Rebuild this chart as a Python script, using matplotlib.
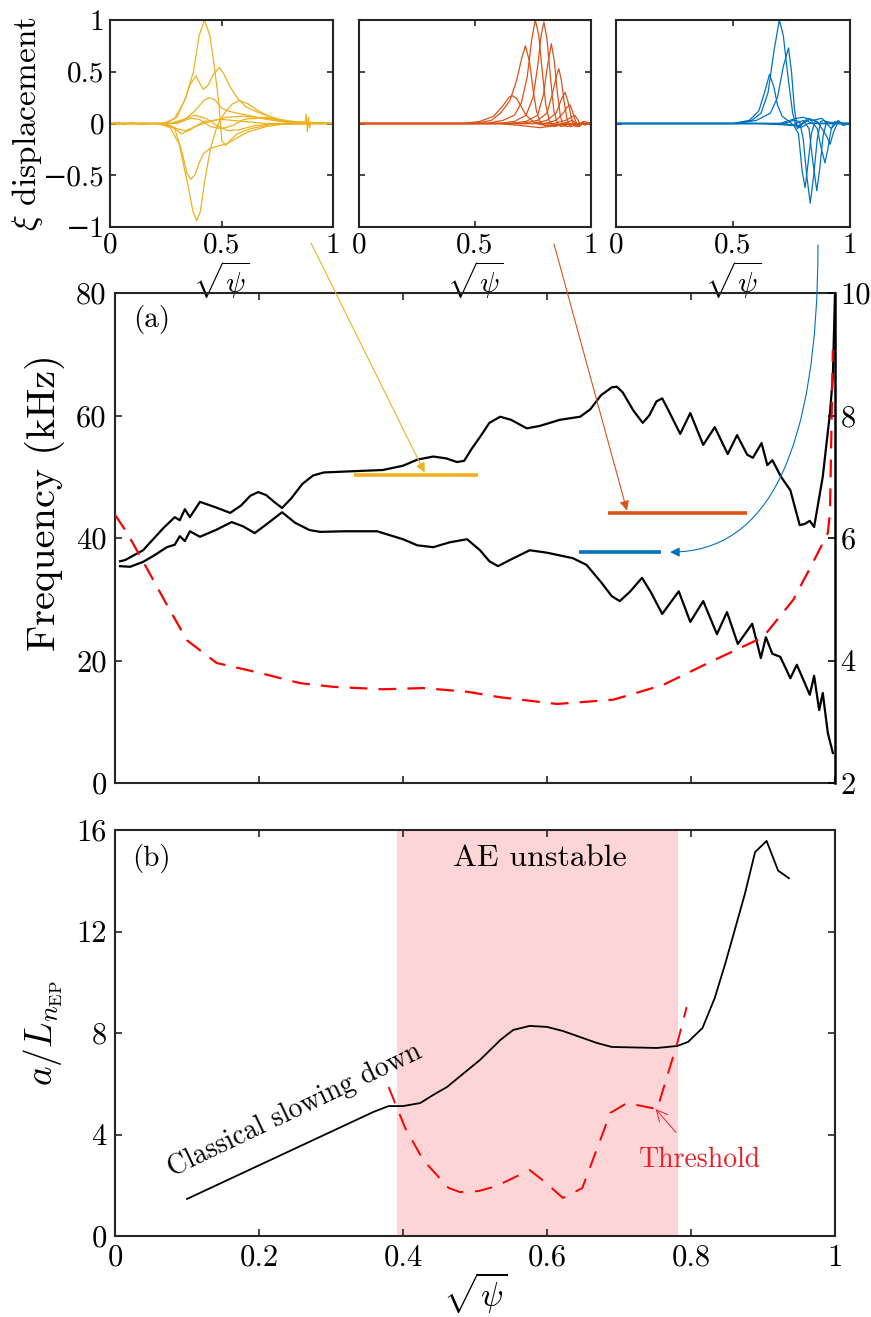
import numpy as np
import matplotlib
matplotlib.use("Agg")
import matplotlib.pyplot as plt
from matplotlib.ticker import FuncFormatter

plt.rcParams['font.family'] = ['cmr10', 'DejaVu Serif']
plt.rcParams['mathtext.fontset'] = 'cm'
plt.rcParams['axes.unicode_minus'] = True

# ---------------- data ----------------
# panel (a): frequency continuum (kHz) vs sqrt(psi)
up_x = [0.007,0.014,0.039,0.067,0.083,0.090,0.097,0.104,0.118,0.14,0.160,0.175,0.188,0.199,0.21,0.222,0.232,0.245,0.26,0.275,0.29,0.33,0.372,0.40,0.42,0.442,0.46,0.475,0.485,0.495,0.507,0.52,0.535,0.55,0.572,0.59,0.618,0.646,0.66,0.675,0.69,0.697,0.705,0.72,0.733,0.742,0.752,0.76,0.768,0.785,0.799,0.817,0.833,0.851,0.864,0.878,0.886,0.898,0.906,0.913,0.925,0.938,0.951,0.958,0.965,0.971,0.983,0.993,0.997,1.0]
up_f = [36.2,36.4,38.0,41.6,43.4,42.9,44.7,43.4,45.9,45.0,44.1,45.3,46.9,47.5,47.0,45.8,44.9,46.5,48.8,50.2,50.7,50.9,51.1,51.8,52.8,53.3,53.0,52.4,52.6,54.5,56.5,58.8,59.8,59.3,57.9,58.3,59.3,59.8,61.0,63.3,64.6,64.7,63.8,60.8,58.8,60.0,62.3,62.8,61.0,57.0,60.4,55.2,58.1,53.7,56.8,53.6,53.1,55.5,51.9,52.7,50.0,47.8,42.1,42.3,42.8,41.8,50.0,60.4,66.3,80.0]
lo_x = [0.007,0.021,0.039,0.055,0.072,0.083,0.090,0.097,0.104,0.118,0.14,0.162,0.178,0.194,0.21,0.232,0.25,0.27,0.285,0.32,0.364,0.40,0.42,0.442,0.465,0.489,0.507,0.52,0.532,0.55,0.576,0.60,0.636,0.655,0.675,0.69,0.701,0.715,0.732,0.745,0.76,0.783,0.799,0.817,0.836,0.85,0.865,0.885,0.897,0.904,0.913,0.924,0.938,0.947,0.965,0.971,0.978,0.983,0.99,0.997]
lo_f = [35.4,35.3,36.1,37.2,38.5,38.9,40.3,39.5,41.1,40.2,41.3,42.6,41.9,40.8,42.2,44.2,42.5,41.3,41.0,41.1,41.1,39.8,38.8,38.5,39.3,39.8,38.0,36.2,35.4,36.5,38.0,37.6,36.7,35.6,32.8,30.5,29.7,31.2,33.5,31.0,27.6,31.3,26.3,29.7,24.3,27.9,22.7,26.0,20.4,23.8,21.1,20.6,17.1,19.3,14.4,17.5,11.9,14.7,8.2,4.9]
q_x = [0.0,0.017,0.044,0.072,0.10,0.141,0.20,0.257,0.303,0.372,0.428,0.489,0.535,0.614,0.692,0.761,0.831,0.90,0.942,0.969,0.99,0.993,0.997]
q_v = [6.38,6.08,5.51,4.91,4.33,3.96,3.80,3.63,3.57,3.53,3.55,3.49,3.40,3.29,3.36,3.60,4.00,4.38,4.99,5.59,6.08,6.41,9.07]

# mode frequencies marked in (a): (x start, x end, frequency kHz)
mode_yellow = (0.332, 0.504, 50.3)
mode_orange = (0.685, 0.878, 44.1)
mode_blue = (0.644, 0.758, 37.7)

# panel (b)
b_x = [0.1,0.359,0.38,0.4,0.424,0.442,0.461,0.507,0.535,0.553,0.576,0.6,0.622,0.669,0.69,0.753,0.781,0.796,0.816,0.833,0.847,0.858,0.875,0.889,0.905,0.921,0.936]
b_v = [1.46,4.89,5.12,5.12,5.24,5.56,5.87,6.94,7.72,8.12,8.28,8.24,8.08,7.61,7.45,7.41,7.49,7.65,8.2,9.38,10.68,11.78,13.5,15.13,15.57,14.4,14.1]
th_x = [0.38,0.403,0.428,0.463,0.479,0.505,0.53,0.576,0.597,0.622,0.649,0.688,0.711,0.753,0.781,0.794]
th_v = [5.87,4.26,3.0,1.9,1.73,1.77,1.97,2.6,2.13,1.5,1.89,4.85,5.24,5.0,7.61,9.02]
unstable = (0.392, 0.782)

# insets: mode structures, list of (x, xi) point lists
yellow_modes = [
    [(0,0),(0.25,0),(0.30,0.06),(0.34,0.25),(0.374,0.5),(0.40,0.85),(0.423,1.0),(0.448,0.85),(0.471,0.5),(0.488,0.2),(0.496,-0.02),(0.502,-0.17),(0.52,-0.21),(0.545,-0.15),(0.57,-0.1),(0.63,-0.05),(0.72,-0.01),(1,0)],
    [(0,0),(0.22,0),(0.27,-0.04),(0.31,-0.2),(0.35,-0.6),(0.372,-0.85),(0.389,-0.94),(0.405,-0.85),(0.425,-0.55),(0.45,-0.25),(0.475,-0.06),(0.49,0.02),(0.52,0.12),(0.55,0.19),(0.58,0.22),(0.62,0.19),(0.66,0.13),(0.72,0.06),(0.8,0.01),(1,0)],
    [(0,0),(0.24,0),(0.29,0.05),(0.33,0.2),(0.36,0.38),(0.386,0.46),(0.40,0.40),(0.418,0.33),(0.44,0.37),(0.465,0.48),(0.49,0.54),(0.51,0.48),(0.54,0.35),(0.57,0.25),(0.61,0.16),(0.65,0.12),(0.70,0.08),(0.76,0.04),(0.85,0.01),(1,0)],
    [(0,0),(0.24,0),(0.29,-0.05),(0.32,-0.25),(0.345,-0.48),(0.362,-0.54),(0.38,-0.5),(0.40,-0.38),(0.42,-0.29),(0.45,-0.24),(0.48,-0.22),(0.52,-0.2),(0.56,-0.15),(0.62,-0.08),(0.7,-0.03),(0.8,0),(1,0)],
    [(0,0),(0.28,0),(0.33,0.03),(0.38,0.12),(0.42,0.22),(0.445,0.25),(0.47,0.23),(0.50,0.15),(0.53,0.12),(0.57,0.1),(0.62,0.08),(0.7,0.04),(0.8,0.01),(1,0)],
    [(0,0),(0.25,0),(0.30,-0.05),(0.34,-0.07),(0.38,-0.03),(0.42,0.0),(0.47,0.03),(0.52,0.06),(0.6,0.07),(0.7,0.05),(0.8,0.02),(1,0)],
    [(0,0),(0.27,0),(0.33,0.04),(0.38,0.08),(0.43,0.05),(0.48,-0.02),(0.53,-0.07),(0.58,-0.06),(0.65,-0.02),(0.75,0.0),(0.875,0),(0.88,0.09),(0.885,-0.08),(0.89,0.06),(0.895,-0.04),(0.9,0),(1,0)],
    [(0,0),(0.3,0),(0.36,0.05),(0.4,0.04),(0.45,-0.03),(0.5,-0.05),(0.55,-0.02),(0.6,0.04),(0.7,0.06),(0.78,0.02),(1,0)],
    [(0,0),(0.04,0.01),(0.06,-0.01),(0.1,0.01),(0.14,-0.01),(0.2,0),(0.28,-0.03),(0.32,-0.1),(0.36,-0.06),(0.42,0.02),(0.5,0.04),(0.6,0.02),(0.7,0.0),(1,0)],
]
orange_modes = [
    [(0,0),(0.45,0.0),(0.52,0.02),(0.58,0.07),(0.62,0.17),(0.645,0.25),(0.66,0.27),(0.68,0.24),(0.70,0.16),(0.72,0.08),(0.75,0.02),(0.78,-0.01),(0.82,-0.02),(0.88,0),(1,0)],
    [(0,0),(0.5,0),(0.57,0.03),(0.61,0.1),(0.65,0.22),(0.68,0.42),(0.70,0.62),(0.717,0.75),(0.735,0.6),(0.75,0.33),(0.765,0.12),(0.78,0.02),(0.80,-0.02),(0.85,-0.01),(1,0)],
    [(0,0),(0.55,0),(0.62,0.03),(0.67,0.08),(0.70,0.2),(0.725,0.45),(0.745,0.82),(0.76,1.0),(0.775,0.85),(0.79,0.5),(0.805,0.18),(0.82,0.03),(0.84,-0.03),(0.88,-0.01),(1,0)],
    [(0,0),(0.6,0),(0.67,0.02),(0.72,0.08),(0.75,0.25),(0.77,0.55),(0.785,0.85),(0.797,0.98),(0.81,0.82),(0.825,0.45),(0.84,0.12),(0.855,0.0),(0.87,-0.03),(0.9,-0.01),(1,0)],
    [(0,0),(0.65,0),(0.72,0.02),(0.77,0.08),(0.795,0.28),(0.812,0.55),(0.829,0.77),(0.842,0.6),(0.855,0.3),(0.868,0.07),(0.88,-0.02),(0.9,-0.03),(0.93,0),(1,0)],
    [(0,0),(0.7,0),(0.77,0.03),(0.81,0.1),(0.835,0.3),(0.85,0.45),(0.861,0.53),(0.872,0.42),(0.885,0.2),(0.897,0.04),(0.91,-0.03),(0.93,-0.02),(0.95,0),(1,0)],
    [(0,0),(0.75,0),(0.81,0.03),(0.85,0.1),(0.87,0.22),(0.888,0.30),(0.90,0.22),(0.913,0.08),(0.925,-0.02),(0.94,-0.03),(0.96,0),(1,0)],
    [(0,0),(0.8,0),(0.85,0.03),(0.88,0.1),(0.898,0.16),(0.909,0.18),(0.92,0.12),(0.932,0.03),(0.945,-0.03),(0.96,0.01),(0.975,-0.01),(1,0)],
    [(0,0),(0.84,0),(0.89,0.03),(0.915,0.06),(0.93,0.08),(0.945,0.03),(0.955,-0.02),(0.965,0.02),(0.975,-0.02),(0.985,0.01),(1,0)],
    [(0,0),(0.6,0),(0.7,-0.02),(0.78,-0.04),(0.85,-0.02),(0.92,0.03),(0.95,-0.03),(0.97,0.02),(1,0)],
]
blue_modes = [
    [(0,0),(0.5,0),(0.58,0.03),(0.62,0.1),(0.65,0.3),(0.675,0.7),(0.698,1.0),(0.715,0.85),(0.735,0.45),(0.755,0.1),(0.77,-0.03),(0.79,-0.04),(0.82,0.0),(1,0)],
    [(0,0),(0.52,0),(0.6,0.03),(0.66,0.1),(0.69,0.25),(0.715,0.55),(0.737,0.73),(0.75,0.5),(0.762,0.15),(0.775,-0.05),(0.79,-0.02),(0.81,0.03),(0.84,0),(1,0)],
    [(0,0),(0.5,0),(0.57,0.03),(0.61,0.12),(0.635,0.3),(0.656,0.475),(0.675,0.35),(0.69,0.18),(0.71,0.07),(0.74,0.02),(0.76,-0.02),(0.78,-0.1),(0.795,-0.45),(0.808,-0.62),(0.82,-0.4),(0.835,-0.1),(0.85,0.02),(0.87,0),(1,0)],
    [(0,0),(0.6,0),(0.7,-0.01),(0.76,0.03),(0.785,0.02),(0.80,-0.15),(0.815,-0.5),(0.83,-0.77),(0.845,-0.5),(0.86,-0.15),(0.875,0.02),(0.89,0.03),(0.91,0),(1,0)],
    [(0,0),(0.65,0),(0.75,-0.02),(0.80,0.03),(0.825,-0.05),(0.84,-0.35),(0.858,-0.65),(0.87,-0.45),(0.885,-0.12),(0.9,0.02),(0.92,0.01),(1,0)],
    [(0,0),(0.7,0),(0.78,-0.02),(0.83,0.04),(0.86,-0.05),(0.878,-0.25),(0.893,-0.38),(0.905,-0.25),(0.92,-0.05),(0.935,0.02),(0.95,0),(1,0)],
    [(0,0),(0.7,0),(0.77,0.05),(0.80,0.06),(0.84,0.03),(0.88,0.05),(0.92,-0.05),(0.95,0.03),(0.97,-0.02),(1,0)],
    [(0,0),(0.72,0),(0.78,-0.03),(0.82,0.05),(0.86,0.02),(0.9,-0.12),(0.915,-0.2),(0.93,-0.08),(0.95,0.02),(0.98,-0.01),(1,0)],
]

C_Y, C_O, C_B = '#EDB120', '#D95319', '#0072BD'
SPINE = '#262626'
W, H = 871, 1317

def fmt(v, pos=None):
    s = '%g' % v
    return s.replace('-', '\u2212')

def style_axes(ax, fs=22):
    for s in ax.spines.values():
        s.set_color(SPINE)
        s.set_linewidth(1.5)
    ax.tick_params(direction='in', top=True, right=True, length=5, width=1.2,
                   color=SPINE, labelsize=fs, pad=6)

fig = plt.figure(figsize=(W/100, H/100), dpi=100)

def rect(l, t, r, b):
    return [l/W, 1-b/H, (r-l)/W, (b-t)/H]

# ---------------- insets ----------------
inset_specs = [((110, 20, 333, 227), yellow_modes, C_Y),
               ((359, 20, 591, 227), orange_modes, C_O),
               ((616, 20, 850, 227), blue_modes, C_B)]
insets = []
for i, (r, modes, col) in enumerate(inset_specs):
    ax = fig.add_axes(rect(*r))
    for m in modes:
        xs = [p[0] for p in m]
        ys = [p[1] for p in m]
        ax.plot(xs, ys, color=col, lw=0.9)
    ax.set_xlim(0, 1)
    ax.set_ylim(-1, 1)
    ax.set_xticks([0, 0.5, 1])
    ax.set_yticks([-1, -0.5, 0, 0.5, 1])
    ax.xaxis.set_major_formatter(FuncFormatter(fmt))
    ax.yaxis.set_major_formatter(FuncFormatter(fmt))
    style_axes(ax, fs=21)
    ax.tick_params(length=4, pad=4)
    if i > 0:
        ax.tick_params(labelleft=False)
    else:
        ax.set_ylabel(r'$\xi$ displacement', fontsize=24)
        ax.yaxis.set_label_coords(-0.29, 0.5)
    ax.set_xlabel(r'$\sqrt{\psi}$', fontsize=21)
    ax.xaxis.set_label_coords(0.5, -0.155)
    insets.append(ax)

# ---------------- panel (a) ----------------
axa = fig.add_axes(rect(115, 293, 835, 783))
axa.set_facecolor('none')
axa.plot(up_x, up_f, color='k', lw=1.6, solid_joinstyle='round')
axa.plot(lo_x, lo_f, color='k', lw=1.6, solid_joinstyle='round')
for (x0, x1, f), col in [(mode_yellow, C_Y), (mode_orange, C_O), (mode_blue, C_B)]:
    axa.plot([x0, x1], [f, f], color=col, lw=2.6, solid_capstyle='butt')
axa.set_xlim(0, 1)
axa.set_ylim(0, 80)
axa.set_xticks([0, 0.2, 0.4, 0.6, 0.8, 1.0])
axa.set_yticks([0, 20, 40, 60, 80])
style_axes(axa, fs=22)
axa.tick_params(labelbottom=False, right=False)
axa.spines['right'].set_visible(False)
axa.set_ylabel('Frequency (kHz)', fontsize=29)
axa.yaxis.set_label_coords(-0.069, 0.573)
axa.text(0.025, 0.945, '(a)', transform=axa.transAxes, fontsize=21, va='center', ha='left')

axq = axa.twinx()
axq.plot(q_x, q_v, color='r', lw=1.6, dashes=(8, 5))
axq.set_ylim(2, 10)
axq.set_yticks([2, 4, 6, 8, 10])
axq.yaxis.set_major_formatter(FuncFormatter(fmt))
for s in axq.spines.values():
    s.set_visible(False)
axq.spines['right'].set_visible(True)
axq.spines['right'].set_color('k')
axq.spines['right'].set_linewidth(1.8)
axq.tick_params(axis='y', direction='in', length=5, width=1.2, color='k', labelsize=22, pad=4)

# arrows from insets to the mode frequencies
arr = dict(arrowstyle='-|>', lw=0.8, shrinkA=0, shrinkB=0, mutation_scale=14)
axa.annotate('', xy=(0.43, mode_yellow[2] + 0.4), xycoords='data',
             xytext=(311/W, 1-243/H), textcoords='figure fraction',
             arrowprops=dict(color=C_Y, **arr), annotation_clip=False)
axa.annotate('', xy=(0.711, mode_orange[2] + 0.4), xycoords='data',
             xytext=(554/W, 1-244/H), textcoords='figure fraction',
             arrowprops=dict(color=C_O, **arr), annotation_clip=False)
axa.annotate('', xy=(0.771, mode_blue[2]), xycoords='data',
             xytext=(818/W, 1-245/H), textcoords='figure fraction',
             arrowprops=dict(color=C_B, connectionstyle='angle3,angleA=90,angleB=0', **arr),
             annotation_clip=False)

# ---------------- panel (b) ----------------
axb = fig.add_axes(rect(115, 830, 835, 1236))
axb.axvspan(unstable[0], unstable[1], color='#fdd5d6', lw=0, zorder=0)
axb.plot(b_x, b_v, color='k', lw=1.3)
axb.plot(th_x, th_v, color='r', lw=1.4, dashes=(9, 6))
axb.set_xlim(0, 1)
axb.set_ylim(0, 16)
axb.set_xticks([0, 0.2, 0.4, 0.6, 0.8, 1.0])
axb.set_yticks([0, 4, 8, 12, 16])
axb.xaxis.set_major_formatter(FuncFormatter(fmt))
style_axes(axb, fs=22)
axb.set_xlabel(r'$\sqrt{\psi}$', fontsize=24)
axb.xaxis.set_label_coords(0.5, -0.085)
axb.set_ylabel(r'$a/L_{n_{\rm EP}}$', fontsize=27, labelpad=8)
axb.text(0.024, 0.931, '(b)', transform=axb.transAxes, fontsize=21, va='center', ha='left')
axb.text(0.59, 14.9, 'AE unstable', fontsize=23, ha='center', va='center')
axb.text(0.25, 4.97, 'Classical slowing down', fontsize=20, ha='center', va='center', rotation=25.5)
axb.annotate('Threshold', xy=(0.751, 5.0), xytext=(0.8125, 3.0), color='#e8202a', fontsize=20,
             ha='center', va='center',
             arrowprops=dict(arrowstyle='->', color='#e8202a', lw=0.7, shrinkA=11, shrinkB=0))

fig.savefig('out.png', dpi=100)
